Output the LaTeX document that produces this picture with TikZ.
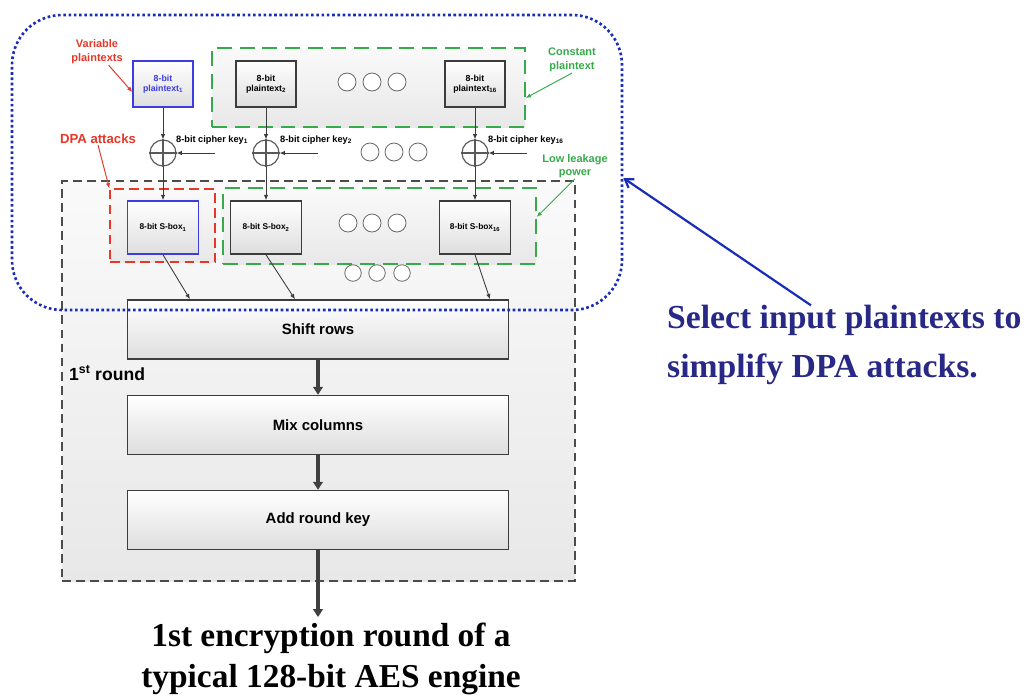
\documentclass[tikz,border=0pt]{standalone}
\usepackage{fontspec}
\setmainfont{Liberation Serif}
\setsansfont{Liberation Sans}
\usetikzlibrary{arrows.meta,shadings}

\definecolor{selblue}{RGB}{25,45,185}
\definecolor{notenavy}{RGB}{40,40,135}
\definecolor{dpared}{RGB}{230,55,40}
\definecolor{lowgreen}{RGB}{55,170,75}
\definecolor{boxblue}{RGB}{60,60,225}
\definecolor{linegray}{RGB}{60,60,60}

\tikzset{
  unitbox/.style={draw=linegray, line width=1.7pt, top color=white, bottom color=black!13,
    align=center, inner sep=0pt},
  ptbox/.style={unitbox, minimum width=24mm, minimum height=18.4mm,
    font=\sffamily\bfseries\fontsize{10}{12}\selectfont},
  sbox/.style={unitbox, minimum width=28.4mm, minimum height=21.2mm,
    font=\sffamily\bfseries\fontsize{9.5}{11}\selectfont},
  roundbox/.style={unitbox, minimum width=152.4mm, minimum height=23.6mm,
    font=\sffamily\bfseries\fontsize{17}{20}\selectfont},
  xorgate/.style={circle, draw=black!65, line width=1.3pt, minimum size=10.4mm, inner sep=0pt},
  dotgap/.style={circle, draw=black!60, line width=0.9pt, fill=white, minimum size=7.2mm, inner sep=0pt},
  zone/.style={inner sep=0pt, top color=black!2, bottom color=black!9},
  greenzone/.style={zone, draw=lowgreen, line width=1.5pt, dash pattern=on 17pt off 9pt},
  redzone/.style={zone, draw=dpared, line width=1.5pt, dash pattern=on 11pt off 6pt},
  flowarrow/.style={draw=linegray, line width=1pt, -{Latex[length=6pt,width=5pt]}},
  bigarrow/.style={draw=black!75, line width=3.5pt, -{Triangle[length=9pt,width=11pt]}},
  keylabel/.style={anchor=west, inner sep=0pt, font=\sffamily\bfseries\fontsize{10.5}{12}\selectfont},
  remark/.style={align=center, inner sep=1pt, font=\sffamily\bfseries\fontsize{12.5}{16}\selectfont},
}

\begin{document}
\begin{tikzpicture}[x=0.4mm,y=-0.4mm]
    \useasboundingbox (0,0) rectangle (1029,695);

    % first round area
    \node[zone, draw=black!70, line width=1.2pt, dash pattern=on 10pt off 6pt,
      minimum width=205.2mm, minimum height=160mm] (roundzone) at (318.5,381) {};
    \node[greenzone, minimum width=125.2mm, minimum height=31.6mm] (ctbox) at (368.5,87.5) {};
    \node[greenzone, minimum width=125.2mm, minimum height=30.4mm] (lpbox) at (379.5,226) {};
    \node[redzone, minimum width=42mm, minimum height=29.2mm] (redbox) at (162.5,225.5) {};

    % plaintexts
    \node[ptbox, draw=boxblue, text=boxblue] (p1) at (163,84) {8-bit\\plaintext\textsubscript{1}};
    \node[ptbox] (p2) at (266,84) {8-bit\\plaintext\textsubscript{2}};
    \node[ptbox] (p16) at (475,84) {8-bit\\plaintext\textsubscript{16}};

    % key addition
    \foreach \n/\x/\k in {x1/163/215, x2/266/318, x16/475/527} {
      \node[xorgate] (\n) at (\x,153) {};
      \draw[black!65, line width=1.3pt] (\n.north) -- (\n.south) (\n.west) -- (\n.east);
      \coordinate (k\n) at (\k,153);
      \draw[flowarrow] (k\n) -- (\n);
    }
    \node[keylabel] (key1) at (176,140) {8-bit cipher key\textsubscript{1}};
    \node[keylabel] (key2) at (280,140) {8-bit cipher key\textsubscript{2}};
    \node[keylabel] (key16) at (488,140) {8-bit cipher key\textsubscript{16}};

    % s-boxes
    \node[sbox, draw=boxblue] (s1) at (163,227.5) {8-bit S-box\textsubscript{1}};
    \node[sbox] (s2) at (266,227.5) {8-bit S-box\textsubscript{2}};
    \node[sbox] (s16) at (475,227.5) {8-bit S-box\textsubscript{16}};

    \foreach \x in {347,372,397} \node[dotgap] at (\x,82) {};
    \foreach \x in {370,394,418} \node[dotgap] at (\x,152) {};
    \foreach \x in {348,372,397} \node[dotgap] at (\x,223) {};
    \foreach \x in {353,377,402} \node[dotgap, minimum size=6.6mm] at (\x,273) {};

    % round operations
    \node[roundbox] (shift) at (318,329.5) {Shift rows};
    \node[roundbox] (mix) at (318,425) {Mix columns};
    \node[roundbox] (addkey) at (318,520) {Add round key};
    \node[anchor=west, inner sep=0pt, font=\sffamily\bfseries\fontsize{20}{23}\selectfont]
      (roundlbl) at (69,373) {1\textsuperscript{st} round};

    \draw[flowarrow] (p1) -- (x1);
    \draw[flowarrow] (p2) -- (x2);
    \draw[flowarrow] (p16) -- (x16);
    \draw[flowarrow] (x1) -- (s1);
    \draw[flowarrow] (x2) -- (s2);
    \draw[flowarrow] (x16) -- (s16);
    \draw[flowarrow] (s1.south) -- (190,0 |- shift.north);
    \draw[flowarrow] (s2.south) -- (295,0 |- shift.north);
    \draw[flowarrow] (s16.south) -- (490,0 |- shift.north);
    \draw[bigarrow] (shift) -- (mix);
    \draw[bigarrow] (mix) -- (addkey);

    \node[font=\rmfamily\bfseries\fontsize{38}{46}\selectfont, align=center, inner sep=0pt]
      (caption) at (331,659) {1st encryption round of a\\typical 128-bit AES engine};
    \draw[bigarrow, shorten >=7pt] (addkey.south) -- (addkey.south |- caption.north);

    % annotations
    \node[remark, text=dpared] (varlbl) at (97,52) {Variable\\plaintexts};
    \node[remark, text=dpared, font=\sffamily\bfseries\fontsize{15}{18}\selectfont] (dpalbl) at (98,139) {DPA attacks};
    \node[remark, text=lowgreen] (ctlbl) at (572,60) {Constant\\plaintext};
    \node[remark, text=lowgreen, font=\sffamily\bfseries\fontsize{12.5}{15}\selectfont] (lplbl) at (575,166) {Low leakage\\power};
    \draw[dpared, line width=1.1pt, -{Latex[length=6pt,width=5pt]}] (varlbl) -- (p1.west |- 0,92);
    \draw[dpared, line width=1.1pt, -{Latex[length=6pt,width=5pt]}] (dpalbl.south) -- (redbox.north west);
    \draw[lowgreen, line width=1.1pt, -{Latex[length=6pt,width=5pt]}] (ctlbl.south) -- (ctbox.east |- 0,98);
    \draw[lowgreen, line width=1.1pt, -{Latex[length=6pt,width=5pt]}] (lplbl.south) -- (lpbox.east |- 0,217);

    % selected region
    \node[draw=selblue, line width=3pt, dash pattern=on 3pt off 3pt, rounded corners=20mm,
      minimum width=244mm, minimum height=118mm, inner sep=0pt] (sel) at (317,162.5) {};
    \node[anchor=west, align=left, inner sep=0pt, text=notenavy,
      font=\rmfamily\bfseries\fontsize{38.3}{55}\selectfont] (note) at (667,345)
      {Select input plaintexts to\\simplify DPA attacks.};
    \draw[selblue, line width=2.5pt, -{Straight Barb[length=9pt,width=12pt]}]
      (811,0 |- note.north) -- (sel.east |- 0,178);
\end{tikzpicture}
\end{document}
